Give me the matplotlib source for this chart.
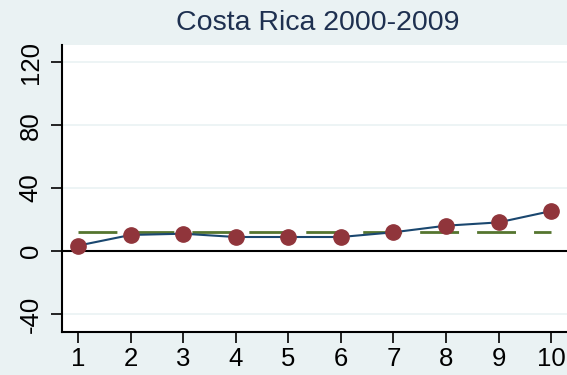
import numpy as np
import matplotlib.pyplot as plt

plt.rcParams['font.family'] = ['Liberation Sans', 'DejaVu Sans']

# yearly series, 1 = 2000 ... 10 = 2009
periods = [1, 2, 3, 4, 5, 6, 7, 8, 9, 10]
values = [3.4, 10.2, 11.0, 8.9, 8.9, 8.9, 11.9, 16.1, 18.2, 25.4]
y_ticks = [-40, 0, 40, 80, 120]
title = "Costa Rica 2000-2009"

BG = "#eaf2f3"
NAVY = "#1a476f"
MAROON = "#90353b"
GREEN = "#55752f"

def main():
    fig = plt.figure(figsize=(5.67, 3.75), dpi=100, facecolor=BG)
    ax = fig.add_axes([0.1093, 0.1147, 0.8907, 0.7653])
    ax.set_facecolor("white")

    mean_val = np.mean(values)

    # light grid at the labelled y values
    for t in y_ticks:
        if t != 0:
            ax.axhline(t, color=BG, lw=1.2, zorder=0)
    ax.axhline(0, color="black", lw=1.5, zorder=1)

    # dashed mean line across the periods
    ax.plot([periods[0], periods[-1]], [mean_val, mean_val], color=GREEN,
            lw=2, dashes=(14, 6.5), zorder=2)

    ax.plot(periods, values, color=NAVY, lw=1.5, zorder=3)
    ax.plot(periods, values, "o", color=MAROON, ms=11, mec=MAROON, zorder=4)

    ax.set_xlim(0.696, 10.30)
    ax.set_ylim(-51.5, 131)
    ax.set_xticks(periods)
    ax.set_yticks(y_ticks)
    ax.set_yticklabels([str(t) for t in y_ticks], rotation=90, va="center")

    ax.tick_params(axis="both", length=8, width=1.2, labelsize=18.5,
                   direction="out", colors="black")
    ax.tick_params(axis="x", pad=3)
    ax.tick_params(axis="y", pad=6)

    for side in ["top", "right"]:
        ax.spines[side].set_visible(False)
    for side in ["left", "bottom"]:
        ax.spines[side].set_linewidth(1.5)

    fig.text(0.56, 0.94, title, ha="center", va="center",
             fontsize=20.5, color="#1e3050")

    fig.savefig("out.png", dpi=100, facecolor=BG)

if __name__ == "__main__":
    main()
